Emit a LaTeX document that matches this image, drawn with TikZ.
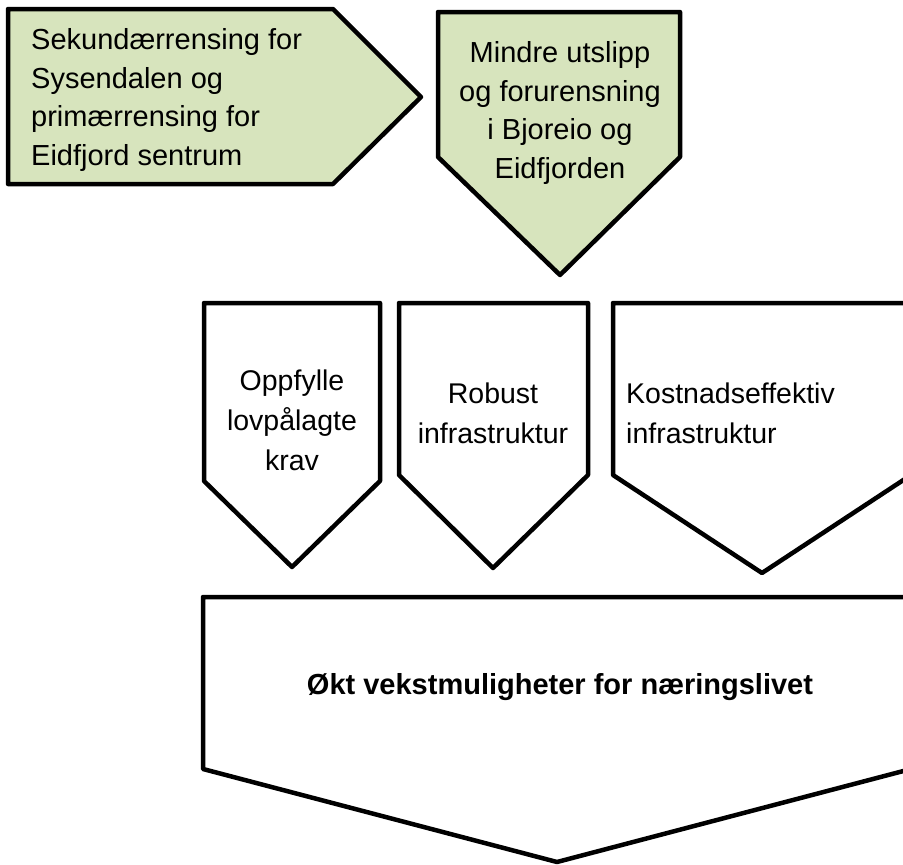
\documentclass[tikz,border=0pt]{standalone}
\usepackage{fontspec}
\setmainfont{Liberation Sans}
\usepackage{tikz}
\usetikzlibrary{positioning,calc}
\definecolor{leafgreen}{HTML}{D7E4BD}
\tikzstyle{greenbox} = [draw, line width=4.5pt, fill=leafgreen, line join=round]
\tikzstyle{whitebox} = [draw, line width=4.5pt, fill=white, line join=round]
\tikzstyle{bigtxt} = [inner sep=0pt, font=\fontsize{29}{38.5}\selectfont]
\tikzstyle{smalltxt} = [inner sep=0pt, font=\fontsize{28.5}{40}\selectfont]

\begin{document}
\begin{tikzpicture}[x=1pt,y=-1pt]
         \useasboundingbox (0,0) rectangle (903,865);
         \clip (0,0) rectangle (903,865);

      % TOP ROW %%%%%%%%%%%%%%%%%%%%%%%%%%%%%%%%%%%%%%%%%%%%%%%%%%
         \draw[greenbox] (8,9) -- (333,9) -- (421,97) -- (333,184) -- (8,184) -- cycle;
         \node[bigtxt, anchor=west, align=left] (sekund) at (31,100){%
            Sekundærrensing for\\Sysendalen og\\primærrensing for\\Eidfjord sentrum};

         \draw[greenbox] (438,12) -- (680,12) -- (680,157) -- (560,275) -- (438,157) -- cycle;
         \node[bigtxt, align=center] (utslipp) at (560,113){%
            Mindre utslipp\\og forurensning\\i Bjoreio og\\Eidfjorden};

      % MIDDLE ROW %%%%%%%%%%%%%%%%%%%%%%%%%%%%%%%%%%%%%%%%%%%%%%%%%
         \draw[whitebox] (204,303) -- (380,303) -- (380,481) -- (292,567) -- (204,481) -- cycle;
         \node[smalltxt, align=center] (krav) at (292,420){%
            Oppfylle\\lovpålagte\\krav};

         \draw[whitebox] (399,303) -- (588,303) -- (588,475) -- (493,568) -- (399,475) -- cycle;
         \node[smalltxt, align=center] (robust) at (493,413){%
            Robust\\infrastruktur};

         \draw[whitebox] (613,303) -- (911,303) -- (911,475) -- (762,573) -- (613,475) -- cycle;
         \node[smalltxt, anchor=west, align=left] (kostnad) at (626,413){%
            Kostnadseffektiv\\infrastruktur};

      % BOTTOM %%%%%%%%%%%%%%%%%%%%%%%%%%%%%%%%%%%%%%%%%%%%%%%%%%%%%
         \draw[whitebox] (203,597) -- (911,597) -- (911,769) -- (557,862) -- (203,769) -- cycle;
         \node[bigtxt, font=\fontsize{29}{38.5}\selectfont\bfseries] (vekst) at (560,687){%
            Økt vekstmuligheter for næringslivet};

      \end{tikzpicture}
\end{document}
